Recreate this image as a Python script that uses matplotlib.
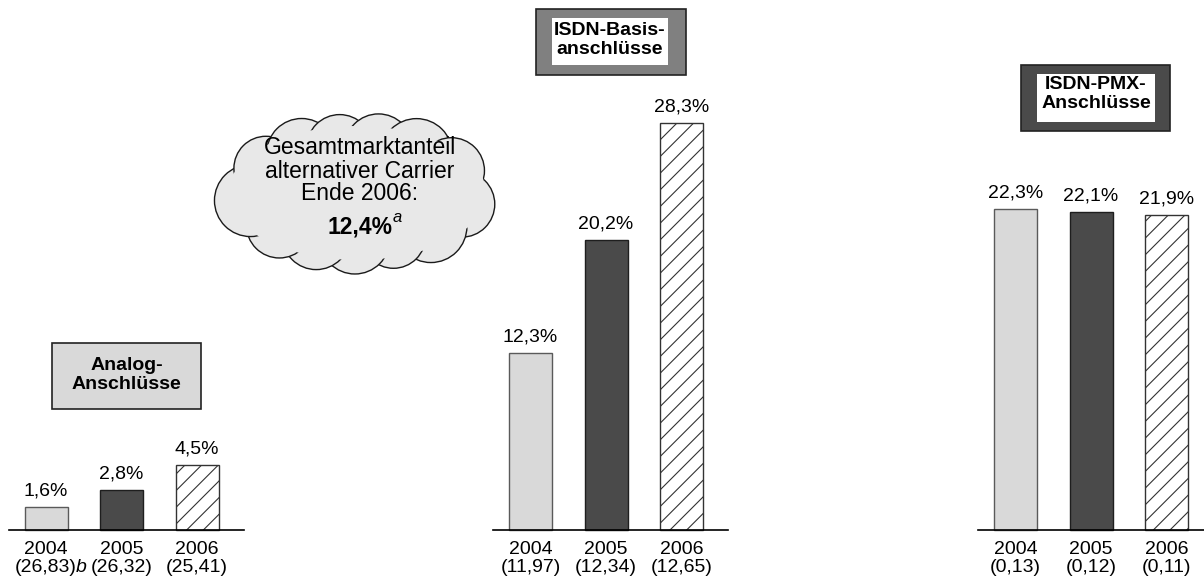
import numpy as np
import matplotlib
matplotlib.use("Agg")
import matplotlib.pyplot as plt
from matplotlib.patches import Rectangle, Circle, Ellipse

plt.rcParams['font.family'] = ['Liberation Sans', 'DejaVu Sans']
plt.rcParams['hatch.linewidth'] = 0.8
plt.rcParams['hatch.color'] = '#333333'

# Marktanteile alternativer Carrier je Anschlussart (in %)
years = ['2004', '2005', '2006']
analog = [1.6, 2.8, 4.5]
isdn_basis = [12.3, 20.2, 28.3]
isdn_pmx = [22.3, 22.1, 21.9]
# Gesamtzahl der Anschlüsse (Mio.)
analog_total = ['(26,83)', '(26,32)', '(25,41)']
basis_total = ['(11,97)', '(12,34)', '(12,65)']
pmx_total = ['(0,13)', '(0,12)', '(0,11)']
group_titles = ['Analog-\nAnschlüsse', 'ISDN-Basis-\nanschlüsse', 'ISDN-PMX-\nAnschlüsse']
total_share = '12,4%'

W, H = 1204, 583
px_per_pct = 14.38
base_y = 530

fig = plt.figure(figsize=(W / 100, H / 100), dpi=100)
ax = fig.add_axes([0, 0, 1, 1])
ax.set_xlim(0, W)
ax.set_ylim(-(H - base_y) / px_per_pct, base_y / px_per_pct)
ax.axis('off')

group_x = [121.5, 606, 1091]
step = 75.5
bar_w = 43
fills = ['#d9d9d9', '#4a4a4a', 'white']
edges = ['#5a5a5a', '#1e1e1e', '#333333']
hatches = [None, None, '//']

series = [analog, isdn_basis, isdn_pmx]
totals = [analog_total, basis_total, pmx_total]

for g, (gx, vals, tots) in enumerate(zip(group_x, series, totals)):
    xs = gx + (np.arange(3) - 1) * step
    for i in range(3):
        ax.bar(xs[i], vals[i], width=bar_w, color=fills[i], edgecolor=edges[i],
               linewidth=1.0, hatch=hatches[i], zorder=2)
        ax.annotate(f'{vals[i]:.1f}%'.replace('.', ','), (xs[i], vals[i]),
                    xytext=(0, 11.5), textcoords='offset points',
                    ha='center', va='center', fontsize=14)
        ax.annotate(years[i], (xs[i], 0), xytext=(0, -14.4),
                    textcoords='offset points', ha='center', va='center', fontsize=14)
        t = ax.annotate(tots[i], (xs[i], 0), xytext=(0, -26.8),
                        textcoords='offset points', ha='center', va='center', fontsize=14)
        if g == 0 and i == 0:
            ax.annotate('b', xy=(1, 0.5), xycoords=t, xytext=(-1, 0),
                        textcoords='offset points', ha='left', va='center',
                        fontsize=14, style='italic')
    ax.plot([gx - 113, gx + 122], [0, 0], color='black', lw=1.2, zorder=3)

# overlay in pixel coordinates for cloud and title boxes
ov = fig.add_axes([0, 0, 1, 1], zorder=5)
ov.set_xlim(0, W)
ov.set_ylim(H, 0)
ov.axis('off')
ov.patch.set_alpha(0)

# Analog title box
ov.add_patch(Rectangle((52, 343), 149, 66, facecolor='#d9d9d9', edgecolor='#222222', lw=1.2))
ov.text(126.5, 375, group_titles[0], ha='center', va='center', fontsize=14,
        fontweight='bold', linespacing=1.1)

# ISDN-Basis title box
ov.add_patch(Rectangle((536, 9), 150, 66, facecolor='#808080', edgecolor='#222222', lw=1.2))
ov.add_patch(Rectangle((552, 18), 116, 47, facecolor='white', edgecolor='none'))
ov.text(610, 40, group_titles[1], ha='center', va='center', fontsize=14,
        fontweight='bold', linespacing=1.1)

# ISDN-PMX title box
ov.add_patch(Rectangle((1021, 65), 149, 66, facecolor='#4a4a4a', edgecolor='#222222', lw=1.2))
ov.add_patch(Rectangle((1037, 74), 118, 48, facecolor='white', edgecolor='none'))
ov.text(1096, 94, group_titles[2], ha='center', va='center', fontsize=14,
        fontweight='bold', linespacing=1.1)

# cloud: bumps along an ellipse, interior covered by a plain ellipse
cx, cy, a, b = 357, 193, 108, 46
t = np.linspace(0, 2 * np.pi, 2000)
ex, ey = a * np.cos(t), b * np.sin(t)
s = np.concatenate([[0], np.cumsum(np.hypot(np.diff(ex), np.diff(ey)))])
radii = [33, 36, 32, 35, 34, 33, 36, 32, 35, 33, 34, 36, 33]
n_bumps = len(radii)
for k in range(n_bumps):
    idx = np.searchsorted(s, s[-1] * (k + 0.3) / n_bumps)
    ov.add_patch(Circle((cx + ex[idx], cy + ey[idx]), radii[k], facecolor='#e8e8e8',
                        edgecolor='#1a1a1a', lw=1.0, zorder=2 + k * 0.01))
ov.add_patch(Ellipse((cx, cy), 2 * (a + 21), 2 * (b + 21), facecolor='#e8e8e8',
                     edgecolor='none', zorder=3))

ov.text(360, 171, 'Gesamtmarktanteil\nalternativer Carrier\nEnde 2006:', ha='center',
        va='center', fontsize=16.5, linespacing=1.0, zorder=4)
ov.text(360, 227, total_share, ha='center', va='center', fontsize=16.5,
        fontweight='bold', zorder=4)
ov.text(393, 217, 'a', ha='left', va='center', fontsize=12, style='italic', zorder=4)

fig.savefig('out.png', dpi=100)
